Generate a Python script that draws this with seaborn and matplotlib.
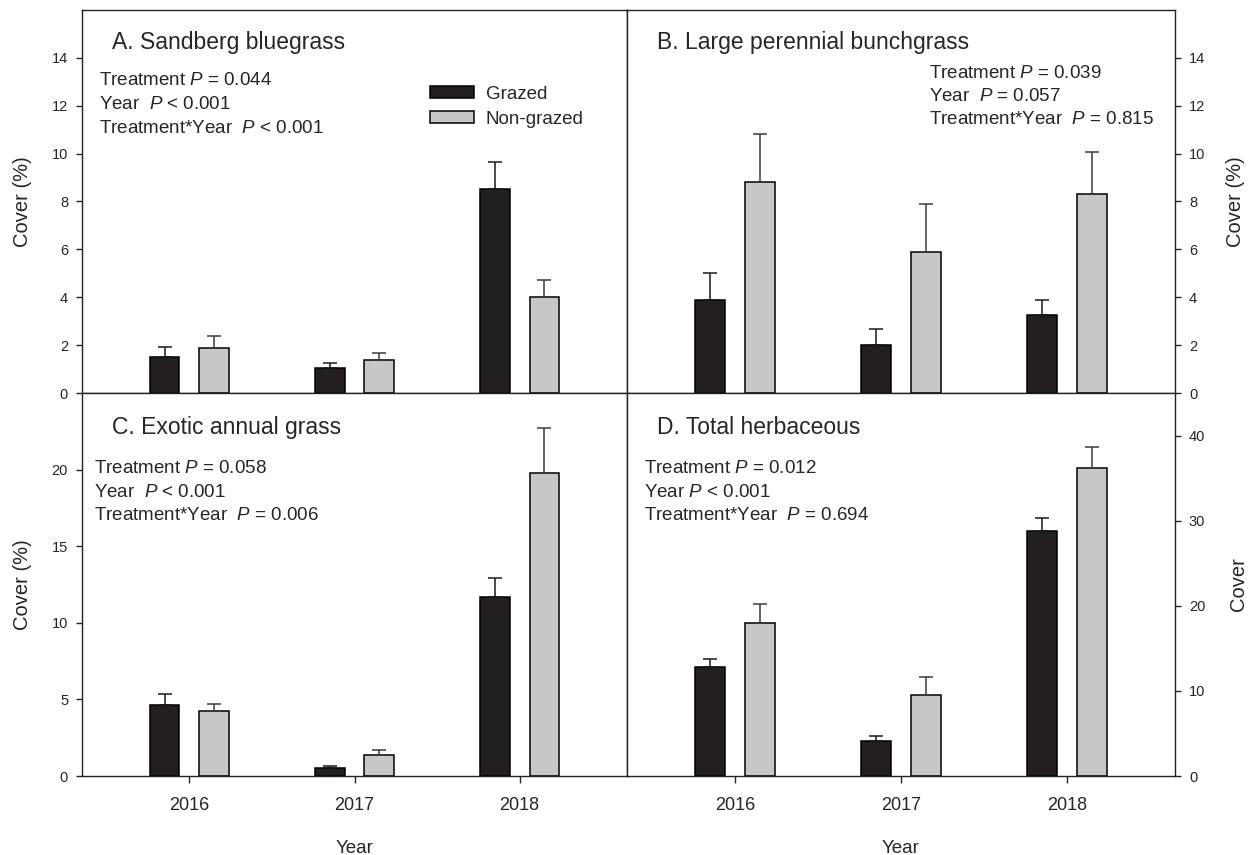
import matplotlib
matplotlib.use("Agg")
import matplotlib.pyplot as plt
import seaborn as sns
import pandas as pd

# ---- data (mean cover % and SE) ----
years = ["2016", "2017", "2018"]
treatments = ["Grazed", "Non-grazed"]

sandberg_grazed = [1.50, 1.03, 8.52]
sandberg_grazed_se = [0.42, 0.22, 1.13]
sandberg_nongrazed = [1.88, 1.36, 4.00]
sandberg_nongrazed_se = [0.50, 0.32, 0.74]

bunch_grazed = [3.89, 2.02, 3.24]
bunch_grazed_se = [1.13, 0.65, 0.64]
bunch_nongrazed = [8.83, 5.88, 8.33]
bunch_nongrazed_se = [2.00, 2.02, 1.74]

annual_grazed = [4.64, 0.54, 11.70]
annual_grazed_se = [0.68, 0.11, 1.20]
annual_nongrazed = [4.25, 1.39, 19.80]
annual_nongrazed_se = [0.46, 0.30, 2.90]

herb_grazed = [12.8, 4.08, 28.8]
herb_grazed_se = [1.00, 0.63, 1.50]
herb_nongrazed = [18.0, 9.57, 36.15]
herb_nongrazed_se = [2.16, 2.04, 2.47]

titles = ["A. Sandberg bluegrass", "B. Large perennial bunchgrass",
          "C. Exotic annual grass", "D. Total herbaceous"]
stats = [
    ["Treatment $P$ = 0.044", "Year  $P$ < 0.001", "Treatment*Year  $P$ < 0.001"],
    ["Treatment $P$ = 0.039", "Year  $P$ = 0.057", "Treatment*Year  $P$ = 0.815"],
    ["Treatment $P$ = 0.058", "Year  $P$ < 0.001", "Treatment*Year  $P$ = 0.006"],
    ["Treatment $P$ = 0.012", "Year $P$ < 0.001", "Treatment*Year  $P$ = 0.694"],
]

BLACK = "#231f20"
GRAY = "#c6c7c9"

sns.set_style("ticks")
plt.rcParams["font.family"] = ["Liberation Sans", "DejaVu Sans"]
plt.rcParams["mathtext.fontset"] = "custom"
plt.rcParams["mathtext.rm"] = "Liberation Sans"
plt.rcParams["mathtext.it"] = "Liberation Sans:italic"


def draw(ax, g, gse, n, nse, legend=False):
    df = pd.DataFrame({
        "Year": years * 2,
        "Treatment": [treatments[0]] * 3 + [treatments[1]] * 3,
        "Cover": g + n,
    })
    sns.barplot(data=df, x="Year", y="Cover", hue="Treatment", order=years,
                hue_order=treatments, palette=[BLACK, GRAY], saturation=1,
                width=0.6, gap=0.4, edgecolor="black", linewidth=1.1,
                errorbar=None, legend=legend, ax=ax)
    bars = list(ax.containers)[:2]
    for cont, se, ecol in zip(bars, [gse, nse], ["#1a1a1a", "#3a3a3a"]):
        for bar, s in zip(cont, se):
            x = bar.get_x() + bar.get_width() / 2
            h = bar.get_height()
            ax.errorbar(x, h, yerr=[[0], [s]], fmt="none", ecolor=ecol,
                        elinewidth=1.1, capsize=5, capthick=1.1, zorder=1)
    ax.set_xlim(-0.65, 2.65)
    for sp in ax.spines.values():
        sp.set_linewidth(1.0)
        sp.set_color("#222222")


fig = plt.figure(figsize=(12.48, 8.55), dpi=100)
W = 1248
H = 855
axA = fig.add_axes([82 / W, 1 - 393 / H, 545 / W, 383 / H])
axB = fig.add_axes([627 / W, 1 - 393 / H, 548 / W, 383 / H])
axC = fig.add_axes([82 / W, 1 - 776 / H, 545 / W, 383 / H])
axD = fig.add_axes([627 / W, 1 - 776 / H, 548 / W, 383 / H])

draw(axA, sandberg_grazed, sandberg_grazed_se, sandberg_nongrazed, sandberg_nongrazed_se, legend=True)
draw(axB, bunch_grazed, bunch_grazed_se, bunch_nongrazed, bunch_nongrazed_se)
draw(axC, annual_grazed, annual_grazed_se, annual_nongrazed, annual_nongrazed_se)
draw(axD, herb_grazed, herb_grazed_se, herb_nongrazed, herb_nongrazed_se)

axA.set_ylim(0, 16)
axA.set_yticks(range(0, 15, 2))
axB.set_ylim(0, 16)
axB.set_yticks(range(0, 15, 2))
axC.set_ylim(0, 25)
axC.set_yticks(range(0, 21, 5))
axD.set_ylim(0, 45)
axD.set_yticks(range(0, 41, 10))

for ax in (axB, axD):
    ax.yaxis.tick_right()
    ax.yaxis.set_label_position("right")

for ax in (axA, axB):
    ax.tick_params(axis="x", bottom=False, labelbottom=False)
    ax.set_xlabel("")
for ax in (axC, axD):
    ax.tick_params(axis="x", direction="out", length=5, width=1, pad=10, labelsize=13)
    ax.set_xlabel("Year", fontsize=13.5, labelpad=19)

for ax in (axA, axB, axC, axD):
    ax.tick_params(axis="y", direction="out", length=4, width=1, pad=6, labelsize=10.5)

axA.set_ylabel("Cover (%)", fontsize=14.5, labelpad=14)
axC.set_ylabel("Cover (%)", fontsize=14.5, labelpad=14)
axB.set_ylabel("Cover (%)", fontsize=14.5, labelpad=15)
axD.set_ylabel("Cover", fontsize=14.5, labelpad=17)

# panel titles
for ax, t in zip((axA, axB, axC, axD), titles):
    ty = 0.914 if ax in (axA, axB) else 0.911
    ax.text(0.055, ty, t, transform=ax.transAxes, fontsize=16.5, va="center", ha="left")

# statistics text
stat_pos = [
    (0.031, [0.815, 0.753, 0.690]),
    (0.551, [0.835, 0.773, 0.713]),
    (0.022, [0.802, 0.739, 0.679]),
    (0.031, [0.802, 0.739, 0.679]),
]
for ax, lines, (sx, ys) in zip((axA, axB, axC, axD), stats, stat_pos):
    for line, yy in zip(lines, ys):
        ax.text(sx, yy, line, transform=ax.transAxes, fontsize=13.5, va="center", ha="left")

sns.move_legend(axA, "upper left", bbox_to_anchor=(0.639, 0.802), frameon=False,
                title=None, fontsize=13.5, handlelength=2.35, handleheight=0.6,
                labelspacing=0.42, handletextpad=0.6, borderaxespad=0, borderpad=0)

fig.savefig("out.png", dpi=100)
plt.close(fig)
